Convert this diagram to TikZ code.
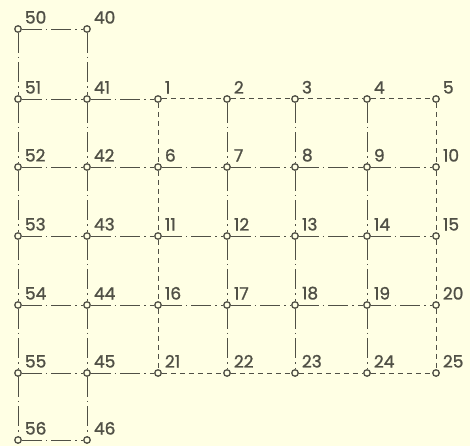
\documentclass[tikz,border=0pt]{standalone}
\usepackage{fontspec}
\setmainfont{Poppins}[FakeBold=1.2]
\definecolor{bg}{RGB}{255,255,228}
\definecolor{ink}{RGB}{80,80,70}
\begin{document}
\begin{tikzpicture}[x=1pt,y=-1pt,
  pt/.style={circle,draw=ink,fill=bg,line width=1.3pt,inner sep=0pt,minimum size=6.5pt,
    label={[lbl]north east:#1}},
  lbl/.style={anchor=south west,inner sep=0pt,xshift=4pt,yshift=2.5pt,text=ink,
    font=\fontsize{17}{17}\selectfont},
  dd/.style={draw=ink,line width=0.9pt,dash pattern=on 20pt off 4pt on 1.5pt off 4pt},
  bd/.style={draw=ink,line width=1pt,dash pattern=on 5.5pt off 3.5pt}]
\fill[bg] (0,0) rectangle (470,446);
\useasboundingbox (0,0) rectangle (470,446);
% grid nodes 1..25
\foreach \i in {1,...,25}{
  \pgfmathtruncatemacro{\c}{mod(\i-1,5)}
  \pgfmathtruncatemacro{\r}{div(\i-1,5)}
  \pgfmathsetmacro{\xx}{{158,227,295,367,436}[\c]}
  \pgfmathsetmacro{\yy}{{99,167,236,305,373}[\r]}
  \node[pt=\i] (n\i) at (\xx,\yy) {};
}
% left strips
\foreach \k/\yy in {0/29,1/99,2/167,3/236,4/305,5/373,6/440}{
  \pgfmathtruncatemacro{\a}{40+\k}
  \pgfmathtruncatemacro{\b}{50+\k}
  \node[pt=\a] (n\a) at (87,\yy) {};
  \node[pt=\b] (n\b) at (18,\yy) {};
}
% left strip edges
\foreach \k in {0,...,6}{
  \pgfmathtruncatemacro{\a}{40+\k}
  \pgfmathtruncatemacro{\b}{50+\k}
  \draw[dd] (n\b) -- (n\a);
}
\foreach \k in {0,...,5}{
  \pgfmathtruncatemacro{\a}{40+\k}
  \pgfmathtruncatemacro{\aa}{41+\k}
  \pgfmathtruncatemacro{\b}{50+\k}
  \pgfmathtruncatemacro{\bb}{51+\k}
  \draw[dd] (n\a) -- (n\aa);
  \draw[dd] (n\b) -- (n\bb);
}
\draw[dd] (n41) -- (n1);
\draw[dd] (n42) -- (n6);
\draw[dd] (n43) -- (n11);
\draw[dd] (n44) -- (n16);
\draw[dd] (n45) -- (n21);
% grid horizontals
\foreach \r in {0,...,4}{
  \foreach \c in {1,...,4}{
    \pgfmathtruncatemacro{\i}{5*\r+\c}
    \pgfmathtruncatemacro{\j}{\i+1}
    \ifnum\r=0 \draw[bd] (n\i) -- (n\j);
    \else\ifnum\r=4 \draw[bd] (n\i) -- (n\j);
    \else \draw[dd] (n\i) -- (n\j);\fi\fi
  }
}
% grid verticals
\foreach \r in {0,...,3}{
  \foreach \c in {1,...,5}{
    \pgfmathtruncatemacro{\i}{5*\r+\c}
    \pgfmathtruncatemacro{\j}{\i+5}
    \ifnum\c=1 \draw[bd] (n\i) -- (n\j);
    \else\ifnum\c=5 \draw[bd] (n\i) -- (n\j);
    \else \draw[dd] (n\i) -- (n\j);\fi\fi
  }
}
\end{tikzpicture}
\end{document}
